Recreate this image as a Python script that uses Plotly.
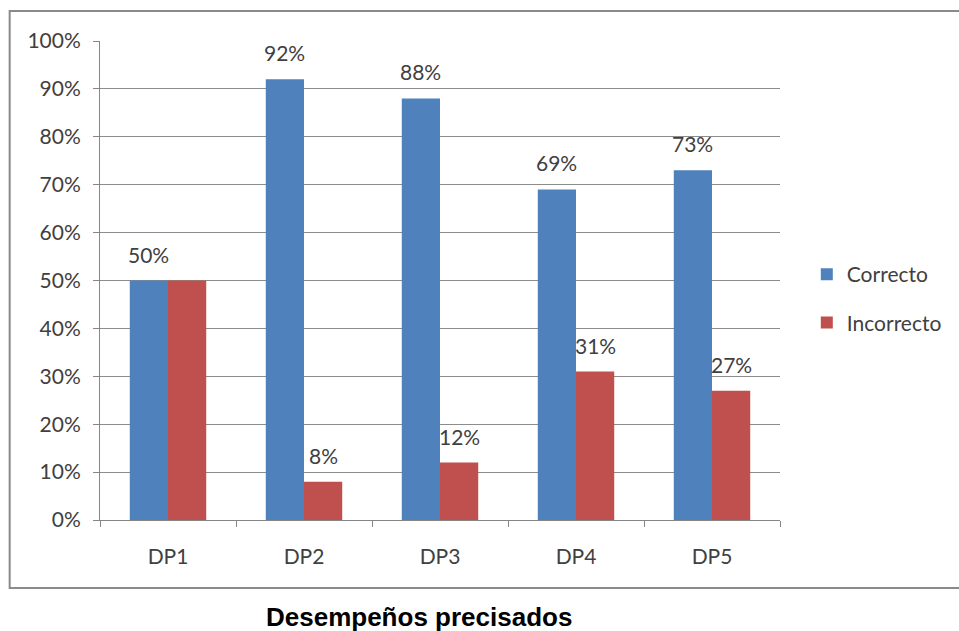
import plotly.graph_objects as go

categories = ["DP1", "DP2", "DP3", "DP4", "DP5"]
correcto = [0.50, 0.92, 0.88, 0.69, 0.73]
incorrecto = [0.50, 0.08, 0.12, 0.31, 0.27]
series_names = ["Correcto", "Incorrecto"]
series_colors = ["#4F81BD", "#C0504D"]
hidden_labels = [("Incorrecto", "DP1")]
y_ticks = [i / 10 for i in range(11)]
title_text = "Desempeños precisados"

FONT = "Lato"
TXT = "#404040"

fig = go.Figure()
series_vals = [correcto, incorrecto]
for i, (name, vals, col) in enumerate(zip(series_names, series_vals, series_colors)):
    fig.add_trace(go.Bar(
        x=categories, y=vals, name=name, marker_color=col,
        marker_line_width=0, legendgroup=name,
    ))

# data labels
W, H = 959, 631
L, R, T, B = 100, 174, 41, 111
pw = W - L - R
ph = H - T - B
cat_w = pw / len(categories)
bargap = 0.438
bar_w = cat_w * (1 - bargap) / 2
annotations = []
for i, (name, vals) in enumerate(zip(series_names, series_vals)):
    off = (i - 0.5) * bar_w
    for c, v in zip(categories, vals):
        if (name, c) in hidden_labels:
            continue
        annotations.append(dict(
            x=c, y=v, xref="x", yref="y", text=f"{round(v*100)}%",
            showarrow=False, xshift=off, yanchor="bottom", yshift=12,
            font=dict(family=FONT, size=21, color=TXT),
        ))

annotations.append(dict(
    x=(421 - L) / pw, y=(H - B - 617) / ph, xref="paper", yref="paper",
    text=f"<b>{title_text}</b>", showarrow=False, xanchor="center", yanchor="middle",
    font=dict(family="Liberation Sans, Arial", size=26, color="#000000"),
))

fig.update_layout(
    width=W, height=H,
    margin=dict(l=L, r=R, t=T, b=B, pad=0),
    paper_bgcolor="white", plot_bgcolor="white",
    barmode="group", bargap=bargap, bargroupgap=0,
    showlegend=True,
    legend=dict(
        x=(812 - L) / pw, y=(H - B - 254) / ph, xanchor="left", yanchor="top",
        font=dict(family=FONT, size=21, color=TXT),
        tracegroupgap=18, itemwidth=30, bgcolor="rgba(0,0,0,0)",
    ),
    xaxis=dict(
        showline=True, linecolor="#868686", linewidth=1,
        ticks="outside", tickson="boundaries", ticklen=6, tickcolor="#868686",
        tickfont=dict(family=FONT, size=21, color=TXT), showgrid=False,
        ticklabelstandoff=18,
    ),
    yaxis=dict(
        range=[0, 1], tickvals=y_ticks, tickformat=".0%",
        showline=True, linecolor="#868686", linewidth=1,
        ticks="outside", ticklen=6, tickcolor="#868686",
        showgrid=True, gridcolor="#8c8c8c", gridwidth=1, zeroline=False,
        tickfont=dict(family=FONT, size=21, color=TXT),
        ticklabelstandoff=8,
    ),
    annotations=annotations,
    shapes=[dict(
        type="rect", xref="paper", yref="paper",
        x0=(9 - L) / pw, x1=1.4, y0=(H - B - 588) / ph, y1=(H - B - 11) / ph,
        line=dict(color="#8a8a8a", width=2), fillcolor="rgba(0,0,0,0)", layer="below",
    )],
)

fig.write_html("out.html")
